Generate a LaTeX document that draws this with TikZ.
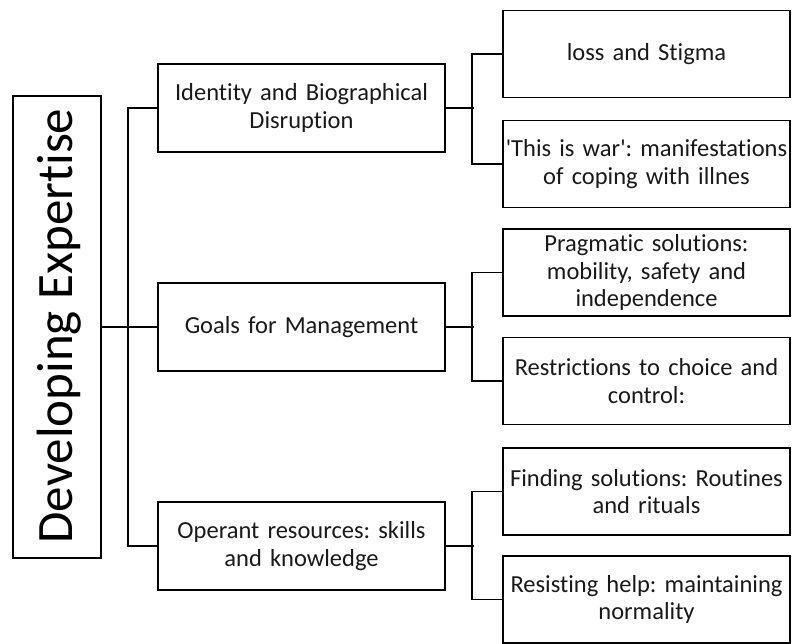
\documentclass[tikz,border=0pt]{standalone}
\usepackage{fontspec}
\setmainfont{Carlito}[Ligatures={NoCommon}]
\definecolor{inkgray}{RGB}{25,25,25}
\frenchspacing
\begin{document}
\begin{tikzpicture}[x=1pt,y=-1pt,
  box/.style={draw=black, line width=1.8pt, rectangle, align=center,
    inner sep=0pt, font=\fontsize{24.5}{27.5}\selectfont, text=inkgray},
  levelone/.style={box, minimum width=287pt, minimum height=88pt, text width=285pt},
  leveltwo/.style={box, minimum width=287pt, minimum height=87pt, text width=287pt},
  link/.style={draw=black, line width=1.8pt}]
  \useasboundingbox (0,0) rectangle (792,644);

  % root
  \node[box, minimum width=88pt, minimum height=462pt] (root) at (57,327) {};
  \node[rotate=90, font=\fontsize{51}{60}\selectfont, text=black, anchor=base, inner sep=0pt]
    (roottext) at (72,326) {Developing Expertise};

  % first level
  \node[levelone] (ident) at (301.5,108) {Identity and Biographical\\Disruption};
  \node[levelone] (goals) at (301.5,327) {Goals for Management};
  \node[levelone] (oper)  at (301.5,546) {Operant resources: skills\\and knowledge};

  % second level
  \node[leveltwo] (loss)   at (646.5,54)    {loss and Stigma};
  \node[leveltwo] (war)    at (646.5,164)   {\textquotesingle This is war\textquotesingle: manifestations\\of coping with illnes};
  \node[leveltwo] (prag)   at (646.5,272.5) {Pragmatic solutions:\\mobility, safety and\\independence};
  \node[leveltwo] (restr)  at (646.5,381)   {Restrictions to choice and\\control:};
  \node[leveltwo] (find)   at (646.5,491.5) {Finding solutions: Routines\\and rituals};
  \node[leveltwo] (resist) at (646.5,599.5) {Resisting help: maintaining\\normality};

  % root to first level
  \draw[link] (root.east) -- (goals.west);
  \draw[link] (ident.west) -- ++(-29,0) |- (oper.west);

  % first level to second level
  \draw[link] (ident.east) -- ++(28,0);
  \draw[link] (loss.west) -- ++(-30,0) |- (war.west);
  \draw[link] (goals.east) -- ++(28,0);
  \draw[link] (prag.west) -- ++(-30,0) |- (restr.west);
  \draw[link] (oper.east) -- ++(28,0);
  \draw[link] (find.west) -- ++(-30,0) |- (resist.west);
\end{tikzpicture}
\end{document}
